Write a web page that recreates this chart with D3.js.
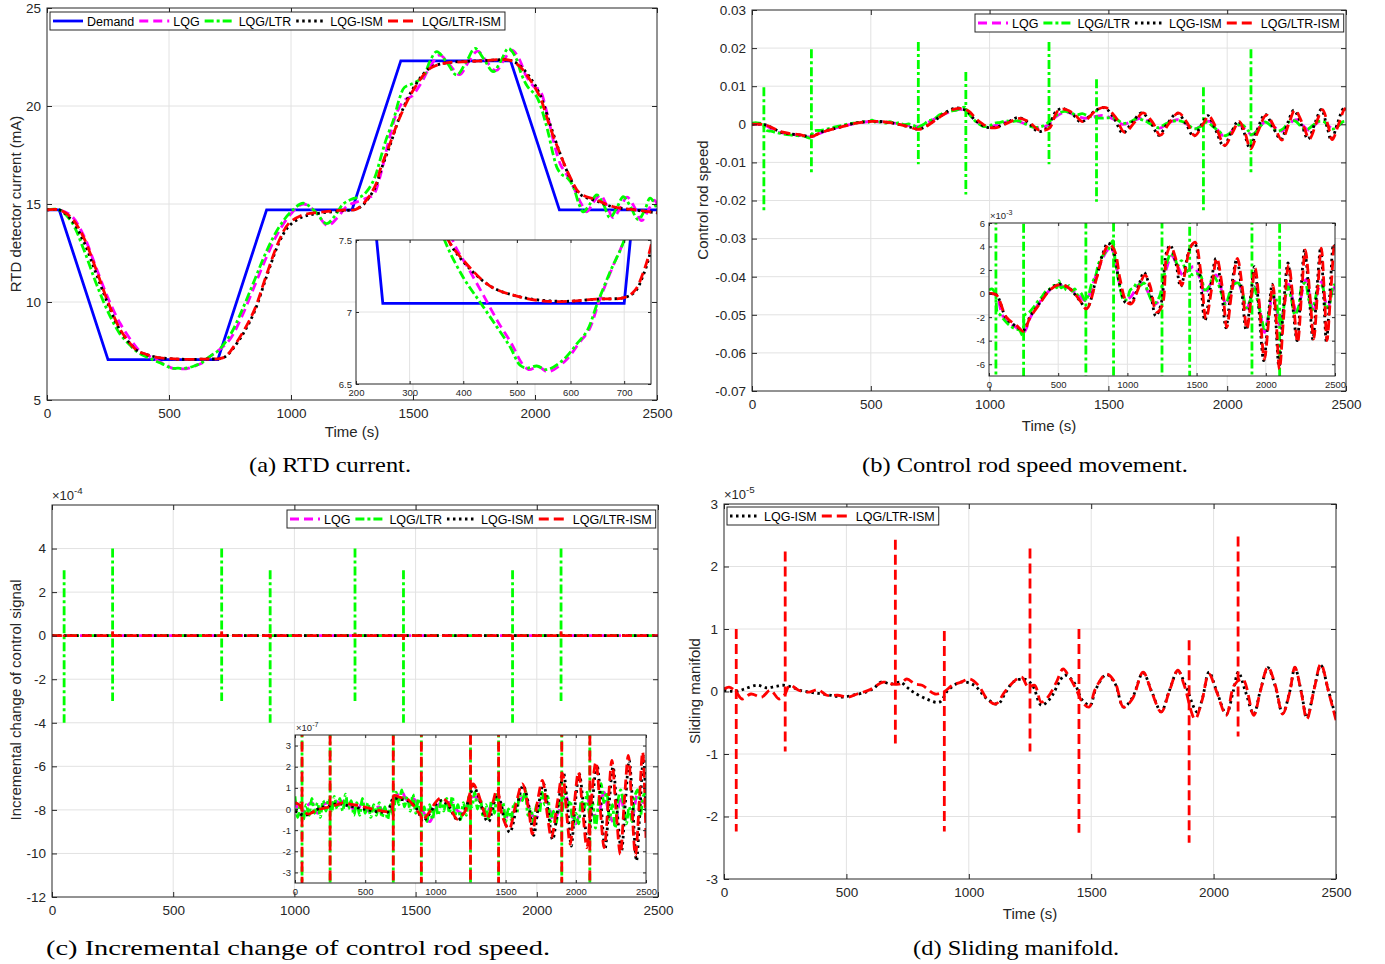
<!DOCTYPE html>
<html><head><meta charset="utf-8">
<script src="https://cdnjs.cloudflare.com/ajax/libs/d3/7.8.5/d3.min.js"></script>
<style>body{margin:0;background:#fff}svg{display:block}</style>
</head><body>
<svg id="chart" width="1385" height="964"></svg>
<script>
// ---------------- DATA ----------------
const timeTicks = [0, 500, 1000, 1500, 2000, 2500];
const legendAll = ["Demand", "LQG", "LQG/LTR", "LQG-ISM", "LQG/LTR-ISM"];
const captions = ["(a) RTD current.", "(b) Control rod speed movement.", "(c) Incremental change of control rod speed.", "(d) Sliding manifold."];

// (a) RTD detector current (mA)
const rtdTicks = [5, 10, 15, 20, 25];
const rtdInsetXTicks = [200, 300, 400, 500, 600, 700];
const rtdInsetYTicks = [6.5, 7, 7.5];
const rtdDemand = [[0,14.7],[50,14.7],[250,7.06],[700,7.06],[900,14.7],[1250,14.7],[1450,22.3],[1900,22.3],[2100,14.7],[2500,14.7]];
const rtdLQG = [[0,14.7],[50,14.7],[100,14.4],[150,13.4],[200,11.8],[250,10.2],[300,8.9],[350,7.95],[380,7.5],[410,7.3],[440,7.1],[465,6.93],[490,6.78],[510,6.64],[522,6.6],[540,6.62],[558,6.585],[590,6.66],[615,6.78],[635,6.88],[652,7.06],[677,7.3],[700,7.5],[750,8.1],[800,9.3],[850,10.8],[900,12.3],[950,13.6],[1000,14.5],[1050,15.0],[1100,14.6],[1150,13.9],[1190,14.3],[1230,14.9],[1270,15.1],[1310,15.3],[1337,15.45],[1365,16.4],[1400,18.2],[1435,19.7],[1465,20.3],[1495,20.5],[1530,21.1],[1570,22.0],[1610,22.6],[1650,22.1],[1690,21.6],[1730,22.3],[1765,22.8],[1800,22.3],[1840,21.8],[1875,22.4],[1905,22.85],[1935,22.4],[1965,21.5],[1995,21.0],[2020,20.8],[2050,19.6],[2080,18.0],[2105,17.0],[2130,16.5],[2160,15.8],[2190,15.0],[2212,14.6],[2240,15.1],[2268,15.45],[2295,14.9],[2320,14.3],[2350,14.8],[2377,15.35],[2405,14.9],[2437,14.15],[2465,14.7],[2488,15.2],[2500,15.0]];
const rtdLTR = [[0,14.7],[50,14.7],[100,14.1],[150,12.7],[200,11.0],[250,9.5],[300,8.35],[340,7.8],[365,7.5],[400,7.24],[431,7.07],[462,6.9],[487,6.76],[506,6.63],[519,6.61],[537,6.625],[556,6.6],[587,6.67],[612,6.78],[631,6.87],[650,7.06],[675,7.29],[700,7.5],[750,8.3],[800,9.6],[850,11.1],[900,12.6],[950,13.8],[1000,14.6],[1050,15.04],[1100,14.6],[1146,14.0],[1180,14.4],[1214,15.0],[1250,15.25],[1290,15.4],[1320,15.8],[1345,16.4],[1365,17.24],[1390,18.3],[1420,19.29],[1445,20.4],[1465,20.95],[1500,21.15],[1542,21.5],[1570,22.3],[1597,22.77],[1640,22.2],[1679,21.58],[1720,22.3],[1754,22.94],[1790,22.4],[1829,21.75],[1860,22.3],[1891,22.94],[1920,22.5],[1945,21.6],[1970,20.98],[2007,20.47],[2048,18.94],[2075,17.5],[2092,16.8],[2110,16.5],[2135,16.3],[2157,15.88],[2180,15.0],[2198,14.6],[2225,15.0],[2253,15.46],[2280,15.0],[2307,14.3],[2335,14.8],[2362,15.37],[2390,14.9],[2423,14.2],[2450,14.7],[2472,15.3],[2500,14.75]];
const rtdISM = [[0,14.7],[50,14.7],[100,14.2],[150,13.1],[200,11.5],[250,9.9],[300,8.55],[350,7.75],[372,7.5],[400,7.35],[450,7.18],[500,7.11],[550,7.08],[600,7.075],[650,7.09],[700,7.10],[720,7.14],[737,7.27],[750,7.43],[800,8.3],[850,9.5],[900,11.3],[950,13.0],[990,13.85],[1040,14.3],[1078,14.45],[1150,14.58],[1214,14.66],[1265,14.72],[1295,14.95],[1324,15.4],[1351,16.0],[1365,16.6],[1406,18.0],[1447,19.5],[1501,20.9],[1570,21.95],[1638,22.2],[1700,22.27],[1775,22.3],[1898,22.33],[1939,22.05],[1980,21.45],[2020,20.6],[2061,19.1],[2102,17.6],[2143,16.35],[2184,15.5],[2253,15.15],[2321,14.85],[2417,14.68],[2500,14.55]];
const rtdLTRISM = [[0,14.7],[50,14.7],[100,14.3],[150,13.3],[200,11.7],[250,10.0],[300,8.6],[350,7.75],[372,7.5],[400,7.36],[450,7.18],[500,7.11],[550,7.076],[600,7.075],[650,7.09],[700,7.10],[720,7.15],[737,7.29],[750,7.46],[800,8.4],[850,9.6],[900,11.4],[950,13.1],[990,14.0],[1040,14.4],[1078,14.52],[1150,14.62],[1214,14.69],[1265,14.72],[1295,15.0],[1324,15.46],[1351,16.1],[1365,16.73],[1406,18.1],[1447,19.45],[1501,20.8],[1570,21.92],[1638,22.2],[1700,22.25],[1775,22.3],[1898,22.33],[1939,22.0],[1980,21.33],[2020,20.47],[2061,18.94],[2102,17.59],[2143,16.4],[2184,15.55],[2253,15.2],[2321,14.86],[2417,14.69],[2500,14.55]];

// (b) Control rod speed, values in units of 1e-3
const speedTicks = [-70, -60, -50, -40, -30, -20, -10, 0, 10, 20, 30];
const speedInsetYTicks = [-6, -4, -2, 0, 2, 4, 6];
const speedLQG = [[0,0],[50,-0.1],[100,-1.9],[150,-2.5],[200,-2.9],[250,-3.3],[300,-2.0],[350,-1.0],[400,-0.2],[450,0.4],[500,0.7],[550,0.6],[600,0.3],[650,-0.2],[700,-0.6],[750,0.8],[800,2.4],[850,3.6],[880,3.9],[910,3.0],[950,0.5],[990,-0.5],[1030,-0.2],[1070,0.6],[1110,0.9],[1150,0.1],[1195,-0.9],[1240,-0.4],[1280,2.0],[1320,3.2],[1360,2.4],[1400,1.6],[1440,2.0],[1480,2.3],[1520,1.4],[1560,0.0],[1600,0.8],[1640,1.6],[1680,0.3],[1715,-1.0],[1750,0.2],[1790,1.2],[1830,0.0],[1860,-1.3],[1900,0.0],[1925,0.8],[1960,-1.5],[1990,-3.3],[2020,-1.8],[2050,-0.2],[2080,-1.5],[2105,-2.8],[2135,-0.8],[2165,0.8],[2200,-0.8],[2230,-1.8],[2260,0.0],[2290,1.2],[2320,-0.4],[2345,-1.6],[2375,0.2],[2400,1.0],[2430,-0.6],[2450,-1.2],[2480,0.2],[2500,0.6]];
const speedLTR = [[0,0.3],[20,0.4],[45,0.0],[60,-1.6],[80,-1.8],[100,-2.1],[130,-2.5],[160,-2.8],[190,-3.0],[220,-3.1],[245,-3.6],[260,-1.8],[290,-1.6],[320,-1.2],[350,-0.7],[380,-0.3],[410,0.2],[440,0.4],[470,0.7],[490,0.5],[505,1.1],[520,0.5],[540,0.6],[560,0.3],[580,0.7],[600,0.2],[620,0.4],[640,-0.1],[660,0.1],[680,-0.3],[695,-0.6],[720,-0.1],[740,0.8],[770,1.5],[790,2.5],[815,3.1],[840,3.5],[860,3.7],[880,4.2],[895,4.5],[910,3.0],[930,1.5],[950,0.3],[975,-0.6],[1000,-0.4],[1020,0.3],[1045,0.5],[1070,0.9],[1095,0.7],[1120,0.9],[1150,0.1],[1175,-0.6],[1200,-0.8],[1230,-0.3],[1260,1.2],[1290,2.8],[1315,3.4],[1340,3.1],[1365,2.4],[1390,2.8],[1415,2.2],[1440,1.8],[1470,1.6],[1500,1.7],[1530,1.5],[1560,0.3],[1590,0.6],[1620,1.5],[1650,1.0],[1680,0.0],[1710,-0.9],[1740,0.1],[1770,0.8],[1800,0.9],[1830,0.2],[1860,-1.2],[1890,-0.5],[1915,0.6],[1940,-0.6],[1965,-1.8],[1990,-3.0],[2015,-2.2],[2040,-0.3],[2065,-0.2],[2090,-1.8],[2110,-2.6],[2135,-0.8],[2160,0.6],[2185,-0.5],[2210,-1.8],[2235,-1.2],[2260,0.6],[2285,0.9],[2310,-0.5],[2335,-1.4],[2360,-0.3],[2385,0.8],[2410,0.6],[2435,-1.2],[2460,-0.9],[2485,0.6],[2500,0.8]];
const speedLTRSpikes = [[50,9.7,-22.6],[250,19.7,-12.9],[700,21.6,-10.5],[900,13.7,-18.4],[1250,21.6,-10.5],[1450,11.8,-20.3],[1900,9.7,-22.9],[2100,19.7,-12.6]];
const speedISM = [[0,0],[53,-0.1],[125,-2.1],[198,-2.8],[250,-3.1],[294,-2.0],[367,-0.8],[439,0.35],[512,0.8],[584,0.4],[656,-0.6],[705,-1.25],[777,1.4],[825,3.5],[860,4.3],[905,3.4],[940,1.0],[990,-0.8],[1030,-0.7],[1079,0.6],[1120,1.8],[1160,0.6],[1205,-1.9],[1245,-0.8],[1280,3.4],[1310,4.1],[1350,2.6],[1385,0.6],[1450,3.8],[1485,4.3],[1525,1.5],[1560,-2.3],[1600,0.5],[1640,3.0],[1680,0.3],[1712,-2.9],[1748,0.2],[1790,2.9],[1826,0.2],[1858,-3.1],[1893,0.0],[1918,2.3],[1950,-1.3],[1985,-5.7],[2016,-2.3],[2046,0.8],[2070,-2.0],[2095,-6.2],[2124,-1.8],[2160,2.6],[2196,-1.2],[2226,-4.0],[2256,0.6],[2280,3.7],[2316,-0.6],[2340,-3.9],[2372,0.8],[2396,3.9],[2420,-0.6],[2438,-4.1],[2466,0.6],[2490,4.2],[2500,4.0]];
const speedLTRISM = [[0,0],[53,-0.1],[125,-2.0],[198,-2.7],[250,-3.2],[294,-2.1],[367,-0.86],[439,0.29],[512,0.77],[584,0.43],[656,-0.57],[705,-1.3],[777,1.29],[825,3.3],[869,4.2],[910,3.57],[946,1.29],[994,-0.71],[1030,-0.86],[1079,0.43],[1127,1.57],[1163,0.71],[1211,-1.57],[1252,-1.0],[1284,3.3],[1313,4.0],[1356,2.7],[1392,0.71],[1453,3.86],[1489,4.37],[1530,1.86],[1568,-2.14],[1609,0.43],[1646,3.0],[1687,0.43],[1718,-2.86],[1754,0.14],[1795,3.0],[1831,0.43],[1863,-3.0],[1899,0.14],[1923,2.14],[1954,-1.0],[1990,-5.57],[2020,-2.43],[2051,0.71],[2073,-1.86],[2099,-6.43],[2128,-2.14],[2165,2.43],[2201,-1.0],[2230,-4.14],[2261,0.43],[2285,3.71],[2321,-0.43],[2346,-3.86],[2377,0.71],[2401,3.86],[2425,-0.43],[2442,-4.0],[2471,0.43],[2495,4.14],[2500,3.6]];

// (c) Incremental change of control signal; curves in units of 1e-7, spikes in units of 1e-4
const incTicks = [-12, -10, -8, -6, -4, -2, 0, 2, 4];
const incInsetYTicks = [-3, -2, -1, 0, 1, 2, 3];
const incLTRStep = 20;
const incLTRVals = [0.6,-0.4,0.3,-0.5,0.2,-0.3,0.5,-0.2,0.3,-0.4,0.4,-0.1,0.5,-0.2,0.6,0.0,0.5,-0.1,0.7,0.0,0.4,-0.3,0.3,-0.3,0.5,-0.2,0.3,-0.4,0.2,-0.3,0.3,-0.4,0.1,-0.5,0.2,-0.3,0.8,0.2,0.9,0.1,0.6,-0.1,0.7,-0.2,0.5,-0.4,0.1,-0.6,0.2,-0.5,0.3,-0.3,0.4,-0.1,0.5,-0.2,0.6,-0.3,0.2,-0.5,0.3,-0.3,0.6,0.1,0.8,0.0,0.5,-0.4,0.2,-0.5,0.4,-0.2,0.7,0.0,0.3,-0.6,0.0,-0.5,0.3,-0.2,0.7,0.4,0.9,-0.3,0.0,-0.7,0.2,-0.2,0.8,0.2,0.6,-0.6,-0.1,-0.7,0.3,-0.2,0.9,0.1,0.4,-0.8,-0.2,-0.7,0.4,0.0,0.8,-0.4,0.3,-0.9,0.2,1.2,0.3,0.8,-0.5,0.2,-0.9,0.4,0.9,0.2,-0.7,0.1,-0.6,0.6,0.9,-0.4,0.6,0.8];
const incLQGStep = 40;
const incLQGVals = [0.4,-0.3,0.1,0.3,-0.2,0.2,0.3,0.4,0.3,0.4,0.1,-0.1,0.3,-0.1,0.0,0.1,-0.2,-0.1,0.6,0.8,0.4,0.5,0.2,-0.2,-0.6,0.0,0.3,0.3,0.3,-0.1,-0.2,0.4,0.6,0.2,-0.2,0.2,0.5,0.0,-0.4,-0.1,0.4,0.6,-0.2,-0.4,0.5,0.3,-0.5,-0.1,0.7,0.0,-0.7,0.1,0.5,-0.3,-0.2,0.8,-0.3,-0.7,0.6,-0.5,-0.4,0.7,0.3,0.5];
const incLTRSpikes = [[50,3,-4],[250,4,-3],[700,4,-3],[900,3,-4],[1250,4,-3],[1450,3,-4],[1900,3,-4],[2100,4,-3]];
const incISM = [[0,-0.1],[30,-0.2],[60,-0.3],[100,-0.25],[150,-0.05],[200,0.1],[250,0.15],[300,0.25],[350,0.2],[400,0.12],[450,0.05],[500,-0.02],[560,-0.1],[620,-0.15],[660,-0.15],[700,0.5],[750,0.45],[800,0.4],[850,0.15],[880,-0.15],[910,-0.6],[940,-0.4],[970,-0.1],[1000,0.2],[1040,0.4],[1070,0.3],[1100,0.1],[1130,-0.3],[1160,-0.55],[1190,-0.3],[1220,0.1],[1250,0.7],[1275,1.1],[1300,0.7],[1330,0.1],[1360,-0.5],[1380,-0.6],[1410,0.1],[1440,0.7],[1470,0.2],[1490,-0.5],[1530,-1.1],[1580,0.1],[1625,1.1],[1670,0],[1700,-1.25],[1735,0.2],[1770,1.2],[1805,-0.2],[1835,-1.45],[1875,0.2],[1912,1.7],[1940,0.2],[1968,-1.75],[1995,0.2],[2025,1.65],[2055,0.1],[2085,-1.7],[2115,0.1],[2150,2.1],[2180,0.2],[2208,-1.9],[2237,0.2],[2265,2.0],[2292,0.1],[2325,-2.0],[2352,0.2],[2380,2.3],[2405,0.2],[2432,-2.45],[2458,0.1],[2482,2.5],[2500,-0.2]];
const incLTRISM = [[0,0.3],[30,0.2],[50,0],[95,-0.24],[140,-0.1],[179,0],[250,0.1],[300,0.2],[345,0.3],[400,0.22],[464,0.15],[520,0.05],[583,-0.05],[655,-0.13],[690,-0.1],[702,0.63],[750,0.55],[798,0.48],[840,0.2],[869,-0.08],[895,-0.3],[905,-0.55],[935,-0.35],[964,-0.08],[1000,0.3],[1036,0.52],[1065,0.45],[1095,0.24],[1125,-0.2],[1155,-0.48],[1185,-0.35],[1214,-0.08],[1240,0.6],[1269,1.19],[1295,0.9],[1321,0.4],[1345,-0.1],[1369,-0.48],[1405,0.2],[1440,0.95],[1476,-0.32],[1524,-0.95],[1571,0.16],[1619,1.19],[1667,-0.16],[1690,-1.19],[1726,0.32],[1762,1.35],[1798,-0.32],[1826,-1.35],[1869,0.32],[1905,1.67],[1936,-0.32],[1960,-1.67],[1988,0.16],[2019,1.75],[2048,0],[2079,-1.83],[2107,0.16],[2143,2.22],[2174,0],[2202,-1.83],[2231,0.32],[2257,2.3],[2286,0],[2317,-2.14],[2345,0.32],[2374,2.54],[2400,0],[2425,-2.2],[2452,0.32],[2476,2.7],[2500,-1.4]];
const incLTRISMSpikes = [[50,0.05,-0.05],[250,0.2,-0.05],[700,0.2,-0.05],[900,0.05,-0.1],[1250,0.1,-0.05],[1450,0.05,-0.2],[1900,0.05,-0.2],[2100,0.2,-0.05]];

// (d) Sliding manifold, units of 1e-5
const slideTicks = [-3, -2, -1, 0, 1, 2, 3];
const slideISM = [[0,0.02],[50,0.0],[83,0.04],[136,0.1],[172,0.06],[210,0.08],[243,0.1],[278,0.07],[310,0.02],[349,-0.01],[385,-0.03],[420,-0.05],[450,-0.07],[482,-0.09],[526,-0.06],[579,-0.01],[612,0.05],[641,0.15],[685,0.12],[720,0.15],[750,0.06],[774,-0.01],[827,-0.12],[880,-0.17],[915,0.02],[968,0.15],[1022,0.1],[1075,-0.12],[1119,-0.2],[1150,-0.02],[1181,0.15],[1225,0.2],[1260,0.1],[1296,-0.22],[1331,-0.12],[1393,0.26],[1429,0.15],[1464,-0.14],[1496,-0.22],[1517,0.02],[1562,0.27],[1597,0.13],[1632,-0.25],[1668,-0.1],[1712,0.3],[1747,0.0],[1786,-0.32],[1818,0.0],[1854,0.33],[1885,0.1],[1933,-0.33],[1955,-0.1],[1981,0.31],[2013,0.0],[2052,-0.36],[2080,0.0],[2101,0.31],[2130,0.0],[2164,-0.36],[2190,0.0],[2222,0.38],[2252,0.08],[2282,-0.35],[2311,0.0],[2332,0.38],[2358,0.0],[2381,-0.42],[2411,0.05],[2438,0.42],[2470,0.0],[2500,-0.42]];
const slideLTRISM = [[0,0.04],[21,0.07],[48,0.0],[74,-0.12],[110,-0.04],[154,-0.09],[189,0.02],[225,-0.12],[248,-0.05],[269,0.1],[305,0.02],[349,-0.01],[384,0.03],[420,-0.06],[464,-0.06],[508,-0.09],[544,-0.04],[597,0.03],[650,0.15],[685,0.12],[720,0.12],[747,0.2],[780,0.12],[809,0.1],[862,-0.04],[900,0.0],[933,0.1],[968,0.15],[1004,0.2],[1039,0.1],[1075,-0.12],[1110,-0.2],[1146,-0.01],[1190,0.18],[1216,0.23],[1243,0.07],[1269,0.1],[1296,-0.17],[1323,-0.09],[1358,0.15],[1385,0.36],[1411,0.23],[1438,0.04],[1464,-0.17],[1491,-0.25],[1517,0.04],[1562,0.28],[1597,0.15],[1632,-0.25],[1668,-0.12],[1712,0.31],[1747,-0.01],[1786,-0.33],[1818,-0.01],[1854,0.34],[1880,0.1],[1924,-0.44],[1951,-0.17],[1981,0.28],[2013,-0.01],[2052,-0.38],[2084,0.1],[2119,0.2],[2164,-0.38],[2190,-0.01],[2222,0.39],[2252,0.1],[2282,-0.36],[2311,-0.01],[2332,0.39],[2358,-0.01],[2381,-0.44],[2411,0.04],[2438,0.44],[2470,-0.01],[2500,-0.46]];
const slideLTRISMSpikes = [[50,1.0,-2.24],[250,2.24,-0.96],[700,2.43,-0.83],[900,0.97,-2.24],[1250,2.29,-0.96],[1450,1.0,-2.26],[1900,0.82,-2.42],[2100,2.48,-0.72]];

// ---------------- DRAWING ----------------
const FONT = '"Liberation Sans", Arial, Helvetica, sans-serif';
const SERIF = '"Liberation Serif", "Times New Roman", Times, serif';
const AX = '#262626', GRID = '#e2e2e2';
const LW = 2.8;
const ST = {
  demand: {color: '#0000ff', dash: null},
  lqg: {color: '#ff00ff', dash: '9,5'},
  ltr: {color: '#00ff00', dash: '9,3,3,3'},
  ism: {color: '#000000', dash: '2.5,3.5'},
  ltrism: {color: '#ff0000', dash: '10,5'}
};
const svg = d3.select('#chart');
const defs = svg.append('defs');
let clipN = 0;
const fmtPlain = d => String(d);

function addAxes(p) {
  const g = svg.append('g');
  const x = d3.scaleLinear().domain(p.xdom).range([p.left, p.right]);
  const y = d3.scaleLinear().domain(p.ydom).range([p.bottom, p.top]);
  const w = p.right - p.left, h = p.bottom - p.top;
  if (p.inset) g.append('rect').attr('x', p.left).attr('y', p.top).attr('width', w).attr('height', h).attr('fill', '#fff');
  const grid = g.append('g').attr('stroke', GRID).attr('stroke-width', 1);
  p.xticks.filter(t => t > p.xdom[0] && t < p.xdom[1]).forEach(t =>
    grid.append('line').attr('x1', x(t)).attr('x2', x(t)).attr('y1', p.top).attr('y2', p.bottom));
  p.yticks.filter(t => t > p.ydom[0] && t < p.ydom[1]).forEach(t =>
    grid.append('line').attr('y1', y(t)).attr('y2', y(t)).attr('x1', p.left).attr('x2', p.right));
  const id = 'clip' + (clipN++);
  defs.append('clipPath').attr('id', id).append('rect').attr('x', p.left).attr('y', p.top).attr('width', w).attr('height', h);
  const plot = g.append('g').attr('clip-path', `url(#${id})`);
  const frame = g.append('g');
  const mk = (gen, tr) => {
    const a = frame.append('g').attr('transform', tr).call(gen);
    a.select('.domain').remove();
    a.selectAll('line').attr('stroke', AX).attr('stroke-width', 1);
    a.selectAll('text').attr('fill', AX).attr('font-size', p.fs).attr('font-family', FONT);
    return a;
  };
  mk(d3.axisBottom(x).tickValues(p.xticks).tickSizeInner(-p.tl).tickSizeOuter(0).tickPadding(p.xpad).tickFormat(fmtPlain), `translate(0,${p.bottom})`);
  mk(d3.axisTop(x).tickValues(p.xticks).tickSizeInner(-p.tl).tickSizeOuter(0).tickFormat(''), `translate(0,${p.top})`);
  mk(d3.axisLeft(y).tickValues(p.yticks).tickSizeInner(-p.tl).tickSizeOuter(0).tickPadding(p.ypad).tickFormat(p.yfmt), `translate(${p.left},0)`);
  mk(d3.axisRight(y).tickValues(p.yticks).tickSizeInner(-p.tl).tickSizeOuter(0).tickFormat(''), `translate(${p.right},0)`);
  frame.append('rect').attr('x', p.left).attr('y', p.top).attr('width', w).attr('height', h)
    .attr('fill', 'none').attr('stroke', AX).attr('stroke-width', 1);
  return {x, y, plot, g, p};
}

function drawLine(ax, data, st, k = 1, linear = false) {
  ax.plot.append('path').datum(data)
    .attr('d', d3.line().x(d => ax.x(d[0])).y(d => ax.y(d[1] * k))
      .curve(linear ? d3.curveLinear : d3.curveCatmullRom.alpha(0.5)))
    .attr('fill', 'none').attr('stroke', st.color).attr('stroke-width', LW)
    .attr('stroke-dasharray', st.dash);
}
function drawSpikes(ax, spikes, st, k = 1) {
  spikes.forEach(s => ax.plot.append('line')
    .attr('x1', ax.x(s[0])).attr('x2', ax.x(s[0]))
    .attr('y1', ax.y(s[1] * k)).attr('y2', ax.y(s[2] * k))
    .attr('stroke', st.color).attr('stroke-width', LW).attr('stroke-dasharray', st.dash));
}
function stepSeries(vals, step) { return vals.map((v, i) => [i * step, v]); }

function legend(x0, y0, entries, fs = 12.5) {
  const g = svg.append('g');
  const rect = g.append('rect');
  let cx = x0 + 3;
  entries.forEach(e => {
    g.append('line').attr('x1', cx).attr('x2', cx + 30).attr('y1', y0 + 9).attr('y2', y0 + 9)
      .attr('stroke', e.st.color).attr('stroke-width', LW).attr('stroke-dasharray', e.st.dash);
    const t = g.append('text').attr('x', cx + 34).attr('y', y0 + 13.5).text(e.label)
      .attr('font-family', FONT).attr('font-size', fs).attr('fill', '#000');
    cx += 34 + t.node().getComputedTextLength() + 5;
  });
  rect.attr('x', x0).attr('y', y0).attr('width', cx - x0 - 1).attr('height', 18)
    .attr('fill', '#fff').attr('stroke', AX).attr('stroke-width', 1);
}
function label(x, y, txt, fs, rot = false, family = FONT, len = null) {
  const t = svg.append('text').attr('font-family', family).attr('font-size', fs).attr('fill', family === SERIF ? '#000' : AX)
    .attr('text-anchor', 'middle').text(txt)
    .attr('transform', rot ? `translate(${x},${y}) rotate(-90)` : `translate(${x},${y})`);
  if (len) t.attr('textLength', len).attr('lengthAdjust', 'spacingAndGlyphs');
  return t;
}
function expLabel(x, y, exp, fs) {
  const t = svg.append('text').attr('x', x).attr('y', y).attr('font-family', FONT).attr('font-size', fs).attr('fill', AX);
  t.append('tspan').text('×10');
  t.append('tspan').attr('dy', -fs * 0.45).attr('font-size', fs * 0.75).text(exp);
}

// ----- (a) -----
const A = addAxes({left: 47, right: 657, top: 8, bottom: 400, xdom: [0, 2500], ydom: [5, 25], xticks: timeTicks, yticks: rtdTicks,
  yfmt: fmtPlain, fs: 13.5, tl: 5, xpad: 8, ypad: 6});
drawLine(A, rtdDemand, ST.demand, 1, true);
drawLine(A, rtdLQG, ST.lqg);
drawLine(A, rtdLTR, ST.ltr);
drawLine(A, rtdISM, ST.ism);
drawLine(A, rtdLTRISM, ST.ltrism);
legend(50, 12, legendAll.map((l, i) => ({label: l, st: [ST.demand, ST.lqg, ST.ltr, ST.ism, ST.ltrism][i]})));
const Ai = addAxes({inset: true, left: 356, right: 651, top: 240, bottom: 384, xdom: [200, 750], ydom: [6.5, 7.5], xticks: rtdInsetXTicks, yticks: rtdInsetYTicks,
  yfmt: fmtPlain, fs: 9.5, tl: 3, xpad: 5, ypad: 4});
drawLine(Ai, rtdDemand, ST.demand, 1, true);
drawLine(Ai, rtdLQG, ST.lqg);
drawLine(Ai, rtdLTR, ST.ltr);
drawLine(Ai, rtdISM, ST.ism);
drawLine(Ai, rtdLTRISM, ST.ltrism);
label(352, 437, 'Time (s)', 15);
label(21, 204, 'RTD detector current (mA)', 15, true);

// ----- (b) -----
const fmtSpeed = d => d === 0 ? '0' : String(+(d / 1000).toFixed(2));
const B = addAxes({left: 752, right: 1346, top: 10, bottom: 391, xdom: [0, 2500], ydom: [-70, 30], xticks: timeTicks, yticks: speedTicks,
  yfmt: fmtSpeed, fs: 13.5, tl: 5, xpad: 8, ypad: 6});
drawLine(B, speedLQG, ST.lqg);
drawLine(B, speedLTR, ST.ltr);
drawSpikes(B, speedLTRSpikes, ST.ltr);
drawLine(B, speedISM, ST.ism);
drawLine(B, speedLTRISM, ST.ltrism);
legend(975, 14, legendAll.slice(1).map((l, i) => ({label: l, st: [ST.lqg, ST.ltr, ST.ism, ST.ltrism][i]})));
const Bi = addAxes({inset: true, left: 989, right: 1335, top: 223, bottom: 376, xdom: [0, 2500], ydom: [-7, 6], xticks: timeTicks, yticks: speedInsetYTicks,
  yfmt: fmtPlain, fs: 9.5, tl: 3, xpad: 5, ypad: 4});
drawLine(Bi, speedLQG, ST.lqg);
drawLine(Bi, speedLTR, ST.ltr);
drawSpikes(Bi, speedLTRSpikes, ST.ltr);
drawLine(Bi, speedISM, ST.ism);
drawLine(Bi, speedLTRISM, ST.ltrism);
expLabel(990, 219, '-3', 9.5);
label(1049, 431, 'Time (s)', 15);
label(708, 200, 'Control rod speed', 15, true);

// ----- (c) -----
const incLTR = stepSeries(incLTRVals, incLTRStep);
const incLQG = stepSeries(incLQGVals, incLQGStep);
const Cm = addAxes({left: 52, right: 658, top: 505, bottom: 897, xdom: [0, 2500], ydom: [-12, 6], xticks: timeTicks, yticks: incTicks,
  yfmt: fmtPlain, fs: 13.5, tl: 5, xpad: 8, ypad: 6});
drawLine(Cm, incLQG, ST.lqg, 0.001);
drawLine(Cm, incLTR, ST.ltr, 0.001);
drawSpikes(Cm, incLTRSpikes, ST.ltr);
drawLine(Cm, incISM, ST.ism, 0.001);
drawLine(Cm, incLTRISM, ST.ltrism, 0.001);
drawSpikes(Cm, incLTRISMSpikes, ST.ltrism);
legend(287, 510, legendAll.slice(1).map((l, i) => ({label: l, st: [ST.lqg, ST.ltr, ST.ism, ST.ltrism][i]})));
expLabel(52, 500, '-4', 13);
const Ci = addAxes({inset: true, left: 295, right: 646, top: 735, bottom: 883, xdom: [0, 2500], ydom: [-3.5, 3.5], xticks: timeTicks, yticks: incInsetYTicks,
  yfmt: fmtPlain, fs: 9.5, tl: 3, xpad: 5, ypad: 4});
drawLine(Ci, incLQG, ST.lqg);
drawLine(Ci, incLTR, ST.ltr);
drawSpikes(Ci, incLTRSpikes, ST.ltr, 1000);
drawLine(Ci, incISM, ST.ism);
drawLine(Ci, incLTRISM, ST.ltrism);
drawSpikes(Ci, incLTRISMSpikes, ST.ltrism, 1000);
expLabel(296, 731, '-7', 9.5);
label(21, 700, 'Incremental change of control signal', 15, true);

// ----- (d) -----
const D = addAxes({left: 724, right: 1336, top: 504, bottom: 879, xdom: [0, 2500], ydom: [-3, 3], xticks: timeTicks, yticks: slideTicks,
  yfmt: fmtPlain, fs: 13.5, tl: 5, xpad: 8, ypad: 6});
drawLine(D, slideISM, ST.ism);
drawLine(D, slideLTRISM, ST.ltrism);
drawSpikes(D, slideLTRISMSpikes, ST.ltrism);
legend(727, 507, [{label: 'LQG-ISM', st: ST.ism}, {label: 'LQG/LTR-ISM', st: ST.ltrism}]);
expLabel(724, 499, '-5', 13);
label(1030, 919, 'Time (s)', 15);
label(700, 691, 'Sliding manifold', 15, true);

// ----- captions -----
label(330, 472, captions[0], 22, false, SERIF, 162);
label(1025, 472, captions[1], 22, false, SERIF, 326);
label(298, 955, captions[2], 22, false, SERIF, 504);
label(1016, 955, captions[3], 22, false, SERIF, 206);
</script>
</body></html>
